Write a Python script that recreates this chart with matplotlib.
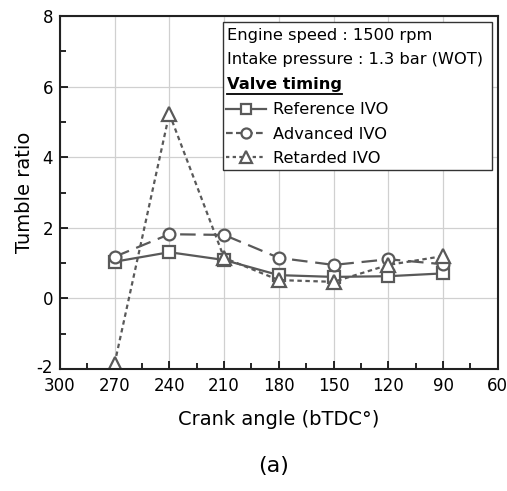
import matplotlib
matplotlib.use("Agg")
import matplotlib.pyplot as plt
from matplotlib.lines import Line2D
from matplotlib.patches import Rectangle
from matplotlib.ticker import MultipleLocator
from matplotlib.transforms import ScaledTranslation

# ----------------------------
# Data
# ----------------------------
crank_angle = [270, 240, 210, 180, 150, 120, 90]
tr_reference = [1.04, 1.31, 1.09, 0.66, 0.61, 0.63, 0.71]
tr_advanced = [1.18, 1.82, 1.80, 1.15, 0.95, 1.11, 0.97]
tr_retarded = [-1.85, 5.24, 1.15, 0.52, 0.47, 0.95, 1.20]

series_labels = ["Reference IVO", "Advanced IVO", "Retarded IVO"]
info_lines = ["Engine speed : 1500 rpm", "Intake pressure : 1.3 bar (WOT)"]

GREY = "#595959"
BOX_FS = 11.7
plt.rcParams["font.family"] = ["DejaVu Sans"]
plt.rcParams["axes.unicode_minus"] = False

fig = plt.figure(figsize=(5.07, 4.91), dpi=100)
ax = fig.add_axes([0.118, 0.2485, 0.864, 0.7185])

style = dict(color=GREY, lw=1.6, markersize=8.5, markeredgewidth=1.6,
             markerfacecolor="white", markeredgecolor=GREY)
ax.plot(crank_angle, tr_reference, marker="s", ls="-", **style)
ax.plot(crank_angle, tr_advanced, marker="o", dashes=(7, 3.5), **style)
ax.plot(crank_angle, tr_retarded, marker="^", dashes=(2, 1.6),
        **{**style, "markersize": 10})

# axes formatting
ax.set_xlim(300, 60)
ax.set_ylim(-2, 8)
ax.xaxis.set_major_locator(MultipleLocator(30))
ax.xaxis.set_minor_locator(MultipleLocator(15))
ax.yaxis.set_major_locator(MultipleLocator(2))
ax.yaxis.set_minor_locator(MultipleLocator(1))
ax.tick_params(which="both", direction="in", labelsize=12, width=1.2,
               top=False, right=False)
ax.tick_params(which="major", length=6)
ax.tick_params(which="minor", length=4)
ax.tick_params(axis="y", pad=5)
ax.tick_params(axis="x", pad=5.5)
ax.grid(True, which="major", color="#d0d0d0", lw=0.9)
ax.set_axisbelow(True)
for sp in ax.spines.values():
    sp.set_linewidth(1.5)
    sp.set_color("#222222")

ax.set_xlabel("Crank angle (bTDC°)", fontsize=14, labelpad=11)
ax.set_ylabel("Tumble ratio", fontsize=14, labelpad=2)

# annotation box with conditions + series key
box = Rectangle((0.372, 0.564), 0.614, 0.419, transform=ax.transAxes,
                facecolor="white", edgecolor="#333333", lw=1.0, zorder=5)
ax.add_patch(box)
ax.text(0.381, 0.946, info_lines[0], transform=ax.transAxes, fontsize=BOX_FS,
        va="center", ha="left", zorder=6)
ax.text(0.381, 0.876, info_lines[1], transform=ax.transAxes, fontsize=BOX_FS,
        va="center", ha="left", zorder=6)
head = ax.text(0.381, 0.806, "Valve timing", transform=ax.transAxes,
               fontsize=BOX_FS, fontweight="bold", va="center", ha="left",
               zorder=6)

handles = [
    Line2D([], [], marker="s", ls="-", **style),
    Line2D([], [], marker="o", dashes=(3, 1.5), **style),
    Line2D([], [], marker="^", dashes=(1.5, 1.5), **{**style, "markersize": 10}),
]
leg = ax.legend(handles, series_labels, loc="upper left",
                bbox_to_anchor=(0.373, 0.765), frameon=False, fontsize=BOX_FS,
                handlelength=2.45, handletextpad=0.4, labelspacing=0.57,
                borderpad=0.2, borderaxespad=0, markerscale=0.85)
leg.set_zorder(7)

fig.text(0.54, 0.05, "(a)", fontsize=16, ha="center", va="center")

fig.canvas.draw()

# underline the heading using its rendered extent
bb = head.get_window_extent().transformed(ax.transAxes.inverted())
ax.add_line(Line2D([bb.x0, bb.x1], [bb.y0 - 0.004, bb.y0 - 0.004],
                   transform=ax.transAxes, color="black", lw=1.3, zorder=6))

# nudge the lowest y label up so it clears the "300" below it
for tick in ax.yaxis.get_major_ticks():
    if abs(tick.get_loc() - (-2)) < 1e-9:
        lbl = tick.label1
        lbl.set_transform(lbl.get_transform()
                          + ScaledTranslation(0, 2.5 / 72, fig.dpi_scale_trans))

fig.savefig("out.png", dpi=100)
